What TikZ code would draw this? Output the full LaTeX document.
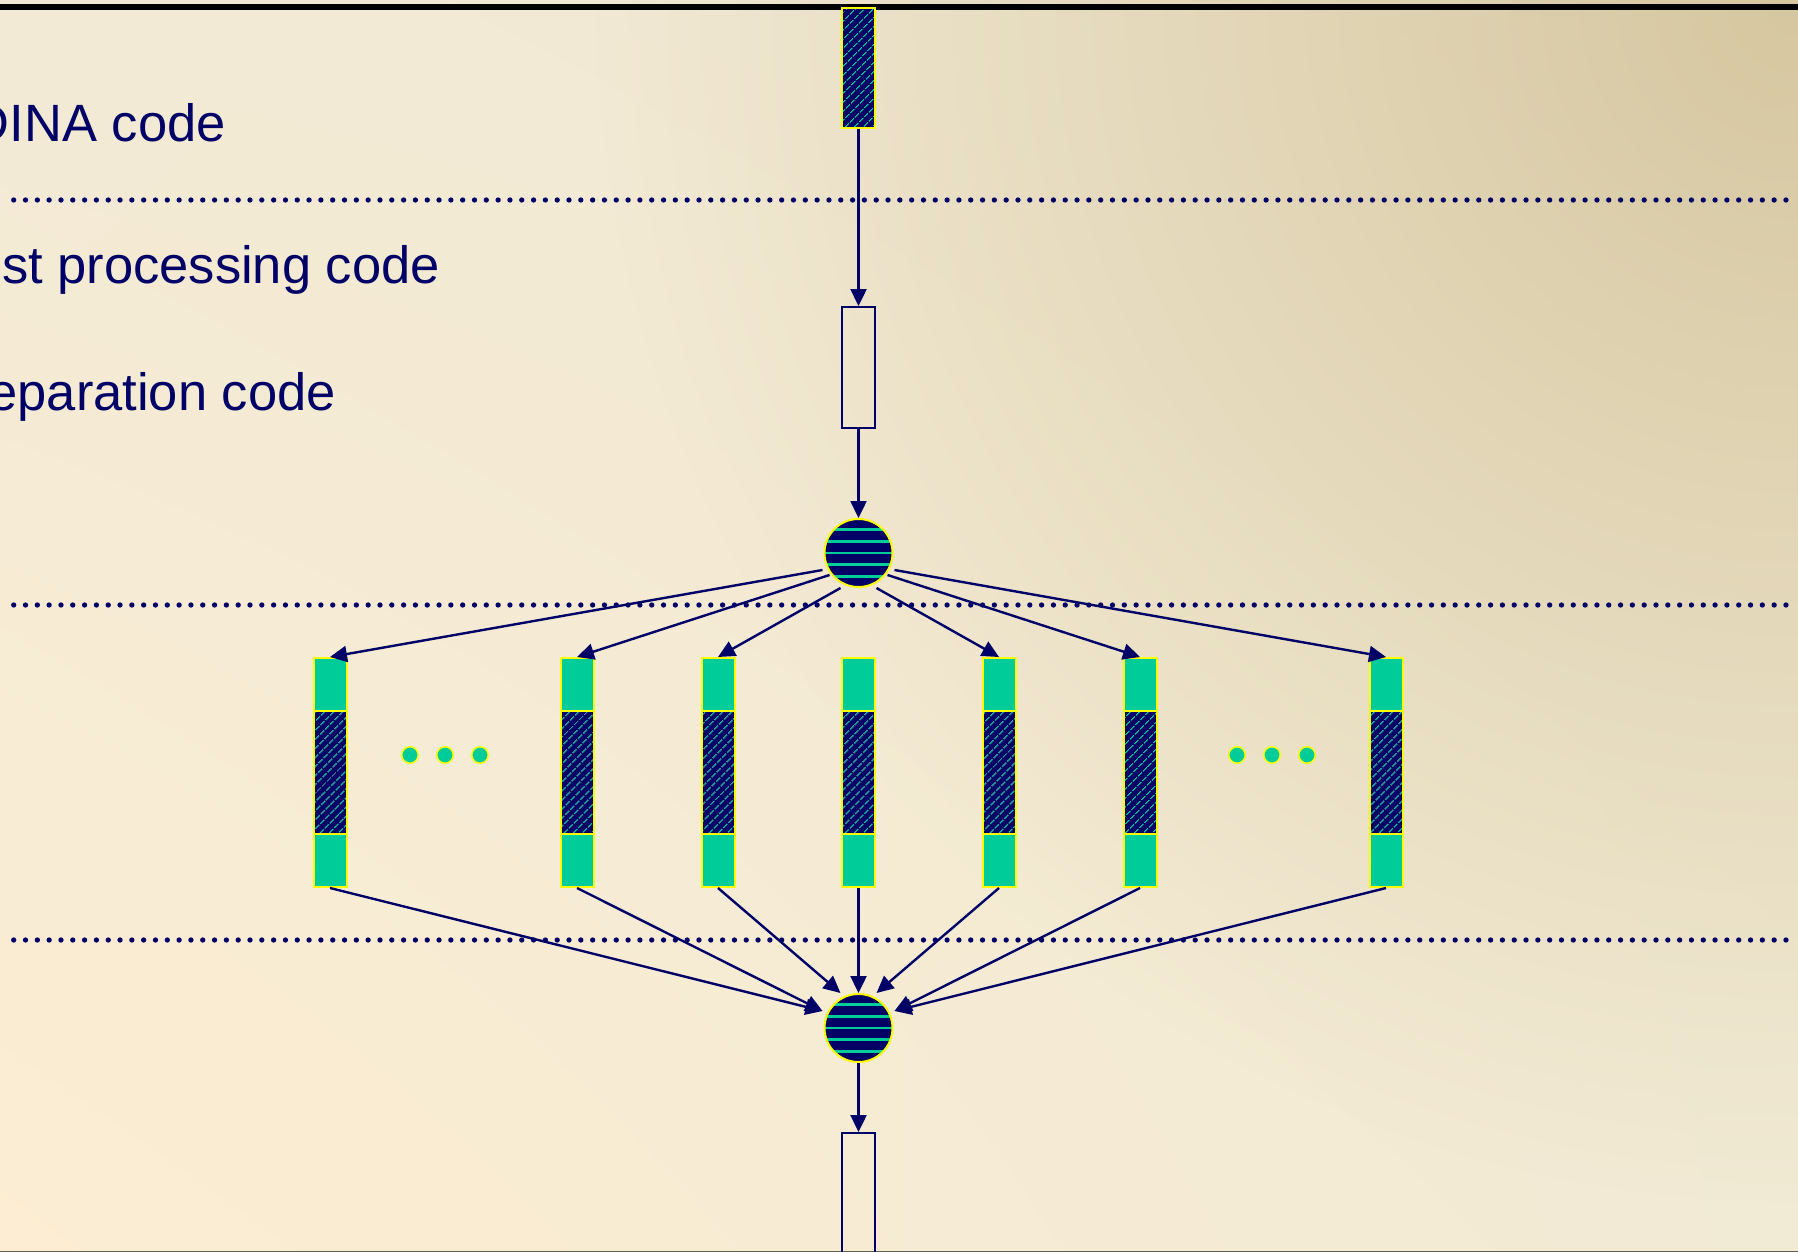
\documentclass[tikz,border=0pt]{standalone}
\usepackage{fontspec}
\setmainfont{Liberation Sans}
\usetikzlibrary{arrows.meta,patterns.meta,fadings,shadings,calc}

\definecolor{ink}{HTML}{000066}
\definecolor{mint}{HTML}{00CC99}
\definecolor{hilite}{HTML}{FFFF00}
\definecolor{bgTL}{HTML}{F2EAD5}
\definecolor{bgTR}{HTML}{F0E8D2}
\definecolor{bgBL}{HTML}{FCEDD3}
\definecolor{bgBR}{HTML}{F1EAD4}
\definecolor{bgTan}{HTML}{D6C7A0}
\definecolor{edge}{HTML}{5F5F55}

\tikzfading[name=cornerfade, inner color=transparent!0, outer color=transparent!100]

\tikzset{
  conn/.style={draw=ink, line width=2.4pt, -{Triangle[length=17pt,width=16pt]}},
  sep/.style={draw=ink, line width=5.3pt, line cap=round, dash pattern=on 0pt off 11.815pt},
  label/.style={text=ink, font=\fontsize{52.5}{62}\selectfont, anchor=base east, inner sep=0pt},
  bar/.style={rectangle, minimum width=33pt, inner sep=0pt, line width=2pt},
  hatchbar/.style={bar, draw=hilite, preaction={fill=ink},
    pattern={Lines[angle=45,distance=6.4pt,line width=1.3pt]}, pattern color=mint},
  solidbar/.style={bar, draw=hilite, fill=mint},
  emptybar/.style={bar, draw=ink},
  hub/.style={circle, minimum size=68pt, inner sep=0pt, draw=hilite, line width=2pt, fill=ink,
    path picture={
      \foreach \k in {-2,...,2}
        \fill[mint] ($(path picture bounding box.center)+(-40,\k*11.6-1.35)$) rectangle ++(80,2.7);
    }},
  dot/.style={circle, minimum size=16.5pt, inner sep=0pt, fill=mint, draw=hilite, line width=1.5pt}
}

\begin{document}
\begin{tikzpicture}[x=1pt,y=-1pt]
\useasboundingbox (0,0) rectangle (1798,1252);

\begin{scope}
  \clip (0,0) rectangle (1798,1252);
  % slide background
  \shade[lower left=bgBL, lower right=bgBR, upper left=bgTL, upper right=bgTR]
    (0,0) rectangle (1798,1252);
  \fill[bgTan, path fading=cornerfade] (1798,0) circle (1200);

  % title rule and bottom edge
  \fill[black] (0,4) rectangle (1798,10);
  \draw[edge, line width=1.2pt] (0,1251.5) -- (1798,1251.5);

  % section separators
  \foreach \yy in {200,605,940}
    \draw[sep] (13.7,\yy) -- (1790,\yy);

  % labels
  \node[label] (lblA) at (226,142) {DINA code};
  \node[label] (lblB) at (440,283) {st processing code};
  \node[label] (lblC) at (336,410) {eparation code};

  % main chain
  \node[hatchbar, minimum height=120pt] (src) at (858.5,68) {};
  \node[emptybar, minimum height=121pt] (prep) at (858.5,367.5) {};
  \node[hub] (split) at (858.5,553) {};
  \node[hub] (merge) at (858.5,1028) {};
  \node[emptybar, minimum height=122pt] (post) at (858.5,1194) {};

  % parallel columns
  \foreach \n/\xx in {1/330,2/577,3/718,4/858.5,5/999,6/1140,7/1386} {
    \node[solidbar, minimum height=53pt] (c\n t) at (\xx,684.5) {};
    \node[solidbar, minimum height=53pt] (c\n b) at (\xx,860.5) {};
    \node[hatchbar, minimum height=123pt] (c\n m) at (\xx,772.5) {};
  }

  % ellipsis dots
  \foreach \n/\xx in {1/410,2/445,3/480} \node[dot] (dl\n) at (\xx,755) {};
  \foreach \n/\xx in {1/1237,2/1272,3/1307} \node[dot] (dr\n) at (\xx,755) {};

  % connectors
  \draw[conn] (src) -- (prep);
  \draw[conn] (prep) -- (split);
  \foreach \n/\dx/\dy in {1/-36/17,2/-29/22,3/-18/35,5/18/35,6/29/22,7/36/17}
    \draw[conn] ($(split.center)+(\dx,\dy)$) -- (c\n t.north);
  \foreach \n/\dx/\dy in {1/-36/-17,2/-36/-17,3/-18/-35,4/0/-35,5/18/-35,6/36/-17,7/36/-17}
    \draw[conn] (c\n b.south) -- ($(merge.center)+(\dx,\dy)$);
  \draw[conn] (merge) -- (post);
\end{scope}
\end{tikzpicture}
\end{document}
